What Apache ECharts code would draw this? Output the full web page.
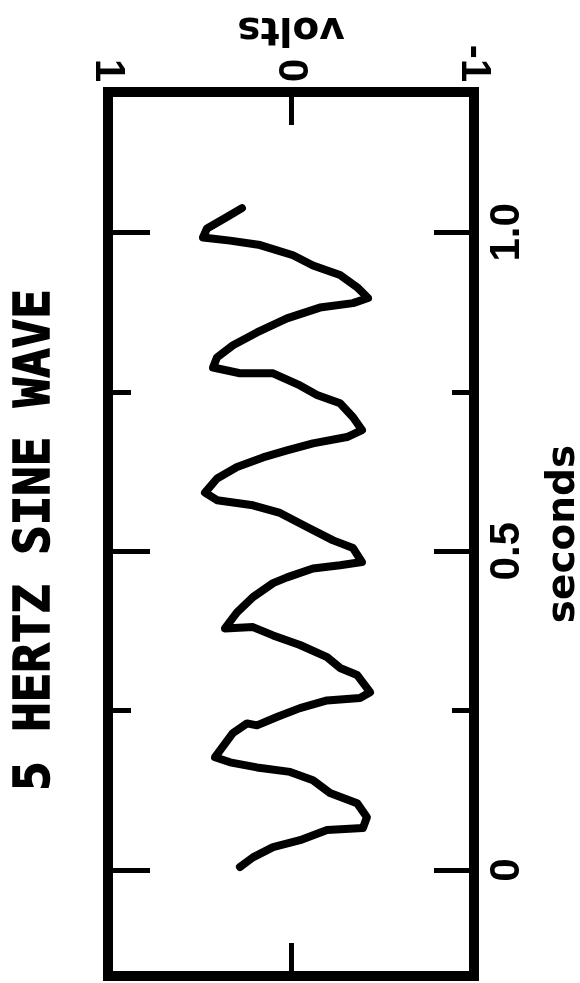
<!DOCTYPE html>
<html>
<head>
<meta charset="utf-8">
<script src="https://cdn.jsdelivr.net/npm/echarts@6/dist/echarts.min.js"></script>
<style>
  html, body { margin: 0; padding: 0; background: #ffffff; }
  #chart { width: 580px; height: 983px; }
</style>
</head>
<body>
<div id="chart"></div>
<script>
// Text
const titleText = '5 HERTZ SINE WAVE';
const timeName = 'seconds';
const voltName = 'volts';

// Recorded trace: time in seconds and matching voltage
const seconds = [0.005,0.020,0.036,0.047,0.063,0.066,0.083,0.105,0.121,0.141,
                 0.154,0.161,0.169,0.177,0.215,0.230,0.227,0.240,0.254,0.266,
                 0.270,0.279,0.306,0.317,0.334,0.353,0.368,0.381,0.379,0.404,
                 0.428,0.450,0.459,0.473,0.478,0.483,0.505,0.517,0.538,0.560,
                 0.572,0.580,0.592,0.614,0.632,0.647,0.658,0.669,0.679,0.690,
                 0.710,0.732,0.745,0.760,0.779,0.779,0.788,0.804,0.823,0.843,
                 0.865,0.882,0.889,0.897,0.914,0.933,0.948,0.964,0.980,0.987,
                 0.992,1.006,1.024,1.038];
const volts = [0.279,0.208,0.098,-0.049,-0.197,-0.393,-0.415,-0.361,-0.213,-0.120,
               0.005,0.186,0.333,0.415,0.317,0.240,0.186,0.077,-0.049,-0.197,
               -0.377,-0.432,-0.361,-0.268,-0.197,-0.049,0.098,0.208,0.361,0.295,
               0.208,0.098,0.022,-0.120,-0.268,-0.388,-0.339,-0.230,-0.087,0.060,
               0.208,0.404,0.470,0.404,0.295,0.153,0.022,-0.120,-0.306,-0.388,
               -0.339,-0.268,-0.142,-0.049,0.098,0.279,0.426,0.404,0.317,0.186,
               0.022,-0.158,-0.339,-0.421,-0.361,-0.268,-0.120,-0.011,0.169,0.333,
               0.481,0.459,0.350,0.268];

// Axis ticks and labels
const timeMajorTicks = [0, 0.5, 1.0];
const timeMinorTicks = [0.25, 0.75];
const timeTickLabels = ['0', '0.5', '1.0'];
const voltTicks = [1, 0, -1];
const voltTickLabels = ['1', '0', '-1'];
const voltMarkedTicks = [0];
const timeRange = [-0.166, 1.22];
const voltRange = [-1, 1];

const INK = '#000000';
const labelFont = { fontFamily: '"Liberation Sans", Arial, sans-serif', fontWeight: 'bold', fontSize: 42, color: INK };
const nameFont = { fontFamily: '"DejaVu Sans", sans-serif', fontWeight: 'bold', fontSize: 39, color: INK };

function timeAxis(position, ticks, tickLen, withLabels) {
  const ax = {
    type: 'value', position: position,
    min: timeRange[0], max: timeRange[1],
    axisLine: { show: false, onZero: false },
    splitLine: { show: false },
    axisTick: { show: true, inside: true, length: tickLen, customValues: ticks,
                lineStyle: { color: INK, width: 5 } },
    axisLabel: { show: false }
  };
  if (withLabels) {
    ax.axisLabel = Object.assign({
      show: true, customValues: timeMajorTicks, rotate: 90, margin: 12,
      formatter: v => timeTickLabels[timeMajorTicks.indexOf(v)]
    }, labelFont);
    ax.name = timeName;
    ax.nameLocation = 'middle';
    ax.nameRotate = 90;
    ax.nameGap = 70;
    ax.nameMoveOverlap = false;
    ax.nameTextStyle = nameFont;
  }
  return ax;
}

function voltAxis(position, withLabels) {
  const ax = {
    type: 'value', position: position, inverse: true,
    min: voltRange[0], max: voltRange[1],
    axisLine: { show: false, onZero: false },
    splitLine: { show: false },
    axisTick: { show: true, inside: true, length: 33, customValues: voltMarkedTicks,
                lineStyle: { color: INK, width: 5 } },
    axisLabel: { show: false }
  };
  if (withLabels) {
    ax.axisLabel = Object.assign({
      show: true, customValues: voltTicks, rotate: 90, margin: 10,
      formatter: v => voltTickLabels[voltTicks.indexOf(v)]
    }, labelFont);
    ax.name = voltName;
    ax.nameLocation = 'middle';
    ax.nameRotate = 180;
    ax.nameGap = 44;
    ax.nameMoveOverlap = false;
    ax.nameTextStyle = nameFont;
  }
  return ax;
}

const chart = echarts.init(document.getElementById('chart'), null, { renderer: 'canvas' });
chart.setOption({
  animation: false,
  backgroundColor: '#ffffff',
  grid: {
    left: 108, right: 106, top: 92, bottom: 7,
    outerBoundsMode: 'none', containLabel: false,
    show: true, borderColor: INK, borderWidth: 10, backgroundColor: 'transparent'
  },
  graphic: [{
    type: 'text', x: 36, y: 540, rotation: Math.PI / 2,
    style: {
      text: titleText, fill: INK, stroke: INK, lineWidth: 1.5,
      font: 'bold 49px "DejaVu Sans Mono", monospace',
      align: 'center', verticalAlign: 'middle'
    }
  }],
  xAxis: [voltAxis('top', true), voltAxis('bottom', false)],
  yAxis: [
    timeAxis('left', timeMajorTicks, 42, false),
    timeAxis('left', timeMinorTicks, 23, false),
    timeAxis('right', timeMajorTicks, 40, true),
    timeAxis('right', timeMinorTicks, 22, false)
  ],
  series: [{
    type: 'line',
    xAxisIndex: 0, yAxisIndex: 0,
    data: seconds.map((t, i) => [volts[i], t]),
    showSymbol: false,
    silent: true,
    lineStyle: { color: INK, width: 8, cap: 'round', join: 'round' }
  }]
});
</script>
</body>
</html>
